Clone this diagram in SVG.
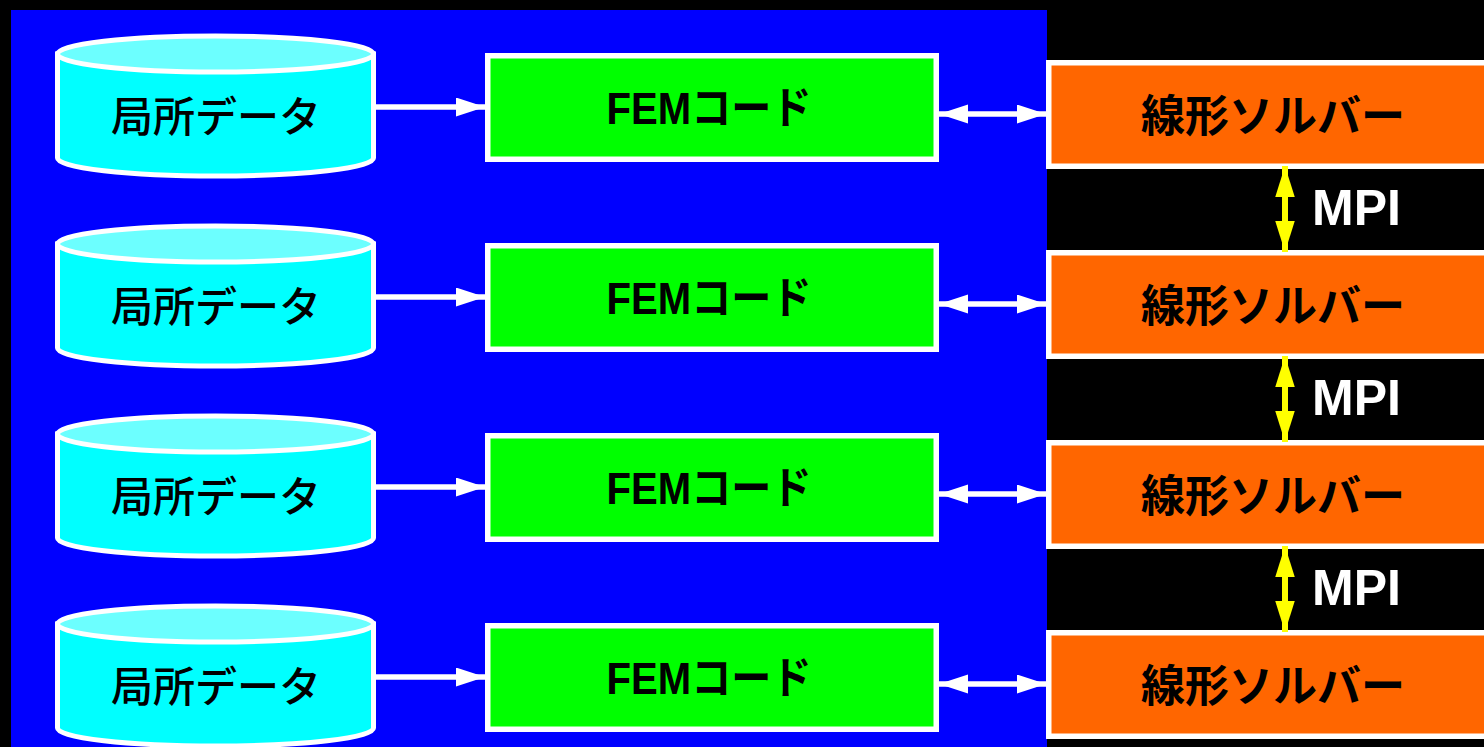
<svg xmlns="http://www.w3.org/2000/svg" width="1484" height="747" viewBox="0 0 1484 747">
<style>
.bg{fill:#000000}
.panel{fill:#0000FF}
.cylbody{fill:#00FFFF;stroke:#FFFFFF;stroke-width:5}
.cyltop{fill:#6CFFFF;stroke:#FFFFFF;stroke-width:5}
.fem{fill:#00FF00;stroke:#FFFFFF;stroke-width:5.5}
.solver{fill:#FF6600;stroke:#FFFFFF;stroke-width:5.5}
.ltxt{font-family:"Noto Sans CJK JP","Noto Sans CJK SC",sans-serif;font-size:42px;font-weight:500;fill:#000000;text-anchor:middle}
.ftxt{font-family:"Liberation Sans","Noto Sans CJK JP",sans-serif;font-size:44px;font-weight:bold;fill:#000000;text-anchor:middle}
.stxt{font-family:"Noto Sans CJK JP","Noto Sans CJK SC",sans-serif;font-size:44px;font-weight:bold;fill:#000000;text-anchor:middle}
.mtxt{font-family:"Liberation Sans",Arial,sans-serif;font-size:50px;font-weight:bold;fill:#FFFFFF}
.wline{stroke:#FFFFFF;stroke-width:5.5;fill:none}
.yline{stroke:#FFFF00;stroke-width:6;fill:none}
</style>
<defs>
<marker id="wh" markerUnits="userSpaceOnUse" markerWidth="30" markerHeight="20" refX="29" refY="9.5" orient="auto-start-reverse" viewBox="0 0 30 20">
<path d="M0,0 L29,9.5 L0,19 z" fill="#FFFFFF"/>
</marker>
<marker id="yh" markerUnits="userSpaceOnUse" markerWidth="32" markerHeight="20" refX="31" refY="9.75" orient="auto-start-reverse" viewBox="0 0 32 20">
<path d="M0,0 L31,9.75 L0,19.5 z" fill="#FFFF00"/>
</marker>
</defs>
<rect class="bg" x="0" y="0" width="1484" height="747"/>
<rect class="panel" x="11" y="10" width="1036" height="737"/>

<g id="local1">
<path class="cylbody" d="M57.5,54 L57.5,158 A158,18 0 0 0 373.5,158 L373.5,54 Z"/>
<ellipse class="cyltop" cx="215.5" cy="54" rx="158" ry="18"/>
<text class="ltxt" x="216" y="132">局所データ</text>
</g>
<g id="local2">
<path class="cylbody" d="M57.5,244 L57.5,348 A158,18 0 0 0 373.5,348 L373.5,244 Z"/>
<ellipse class="cyltop" cx="215.5" cy="244" rx="158" ry="18"/>
<text class="ltxt" x="216" y="322">局所データ</text>
</g>
<g id="local3">
<path class="cylbody" d="M57.5,434 L57.5,538 A158,18 0 0 0 373.5,538 L373.5,434 Z"/>
<ellipse class="cyltop" cx="215.5" cy="434" rx="158" ry="18"/>
<text class="ltxt" x="216" y="512">局所データ</text>
</g>
<g id="local4">
<path class="cylbody" d="M57.5,624 L57.5,728 A158,18 0 0 0 373.5,728 L373.5,624 Z"/>
<ellipse class="cyltop" cx="215.5" cy="624" rx="158" ry="18"/>
<text class="ltxt" x="216" y="702">局所データ</text>
</g>

<g id="fem1">
<rect class="fem" x="487.75" y="55.75" width="448.5" height="103.5"/>
<text class="ftxt" x="709" y="124" textLength="205" lengthAdjust="spacingAndGlyphs">FEMコード</text>
</g>
<g id="fem2">
<rect class="fem" x="487.75" y="245.75" width="448.5" height="103.5"/>
<text class="ftxt" x="709" y="314" textLength="205" lengthAdjust="spacingAndGlyphs">FEMコード</text>
</g>
<g id="fem3">
<rect class="fem" x="487.75" y="435.75" width="448.5" height="103.5"/>
<text class="ftxt" x="709" y="504" textLength="205" lengthAdjust="spacingAndGlyphs">FEMコード</text>
</g>
<g id="fem4">
<rect class="fem" x="487.75" y="625.75" width="448.5" height="103.5"/>
<text class="ftxt" x="709" y="694" textLength="205" lengthAdjust="spacingAndGlyphs">FEMコード</text>
</g>

<g id="solver1">
<rect class="solver" x="1048.75" y="62.75" width="450" height="103.5"/>
<text class="stxt" x="1273" y="132">線形ソルバー</text>
</g>
<g id="solver2">
<rect class="solver" x="1048.75" y="252.75" width="450" height="103.5"/>
<text class="stxt" x="1273" y="322">線形ソルバー</text>
</g>
<g id="solver3">
<rect class="solver" x="1048.75" y="442.75" width="450" height="103.5"/>
<text class="stxt" x="1273" y="512">線形ソルバー</text>
</g>
<g id="solver4">
<rect class="solver" x="1048.75" y="632.75" width="450" height="103.5"/>
<text class="stxt" x="1273" y="702">線形ソルバー</text>
</g>

<g id="connectors">
<line class="wline" x1="376" y1="107" x2="485" y2="107" marker-end="url(#wh)"/>
<line class="wline" x1="376" y1="297" x2="485" y2="297" marker-end="url(#wh)"/>
<line class="wline" x1="376" y1="487" x2="485" y2="487" marker-end="url(#wh)"/>
<line class="wline" x1="376" y1="677" x2="485" y2="677" marker-end="url(#wh)"/>

<line class="wline" x1="939" y1="114" x2="1046" y2="114" marker-start="url(#wh)" marker-end="url(#wh)"/>
<line class="wline" x1="939" y1="304" x2="1046" y2="304" marker-start="url(#wh)" marker-end="url(#wh)"/>
<line class="wline" x1="939" y1="494" x2="1046" y2="494" marker-start="url(#wh)" marker-end="url(#wh)"/>
<line class="wline" x1="939" y1="684" x2="1046" y2="684" marker-start="url(#wh)" marker-end="url(#wh)"/>

<line class="yline" x1="1285" y1="166" x2="1285" y2="252" marker-start="url(#yh)" marker-end="url(#yh)"/>
<line class="yline" x1="1285" y1="356" x2="1285" y2="442" marker-start="url(#yh)" marker-end="url(#yh)"/>
<line class="yline" x1="1285" y1="546" x2="1285" y2="632" marker-start="url(#yh)" marker-end="url(#yh)"/>
</g>

<g id="mpi-labels">
<text class="mtxt" x="1312" y="225">MPI</text>
<text class="mtxt" x="1312" y="415">MPI</text>
<text class="mtxt" x="1312" y="605">MPI</text>
</g>
</svg>
